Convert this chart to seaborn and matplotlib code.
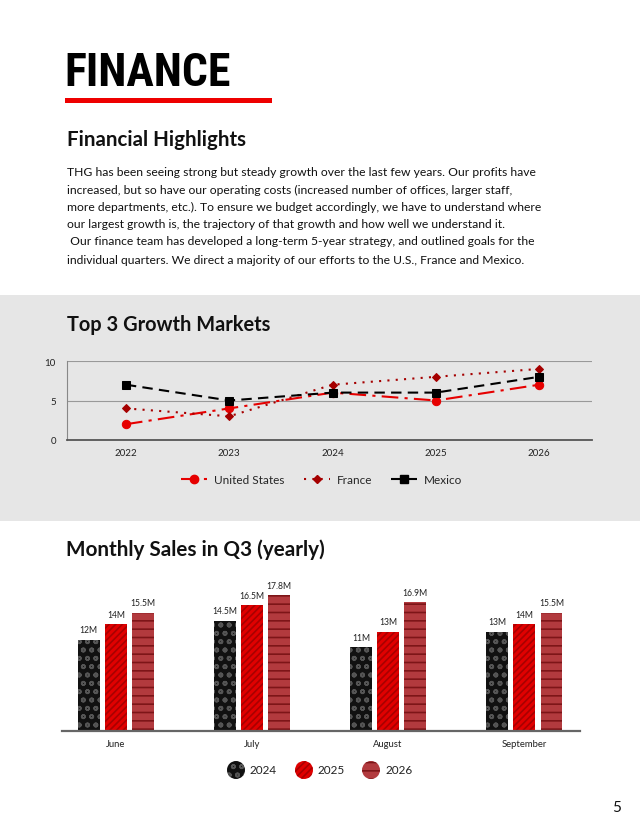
import matplotlib
matplotlib.use("Agg")
import matplotlib.pyplot as plt
import seaborn as sns
import pandas as pd
from matplotlib.patches import Rectangle, Circle
from matplotlib.lines import Line2D
from matplotlib import font_manager as fm
from matplotlib.font_manager import FontProperties

# ---------------- data ----------------
years = ["2022", "2023", "2024", "2025", "2026"]
us_values = [2, 4, 6, 5, 7]
france_values = [4, 3, 7, 8, 9]
mexico_values = [7, 5, 6, 6, 8]

months = ["June", "July", "August", "September"]
sales_2024 = [12, 14.5, 11, 13]
sales_2025 = [14, 16.5, 13, 14]
sales_2026 = [15.5, 17.8, 16.9, 15.5]
sales_years = ["2024", "2025", "2026"]

paragraph = [
    "THG has been seeing strong but steady growth over the last few years. Our profits have",
    "increased, but so have our operating costs (increased number of offices, larger staff,",
    "more departments, etc.). To ensure we budget accordingly, we have to understand where",
    "our largest growth is, the trajectory of that growth and how well we understand it.",
    " Our finance team has developed a long-term 5-year strategy, and outlined goals for the",
    "individual quarters. We direct a majority of our efforts to the U.S., France and Mexico.",
]

sns.set_theme(style="white")
names = {f.name for f in fm.fontManager.ttflist}
body_font = "Lato" if "Lato" in names else "DejaVu Sans"
plt.rcParams["font.family"] = [body_font, "DejaVu Sans"]
plt.rcParams["hatch.linewidth"] = 1.2

# condensed bold font for the big title
title_prop = None
for key in ["LiberationSansNarrow-Bold.", "RobotoCondensed-Bold.", "Roboto_Condensed-Bold",
            "DejaVuSansCondensed-Bold."]:
    for f in fm.fontManager.ttflist:
        if key in f.fname:
            title_prop = FontProperties(fname=f.fname, size=33)
            break
    if title_prop is not None:
        break
if title_prop is None:
    title_prop = FontProperties(family="DejaVu Sans", weight="bold", stretch="condensed", size=33)

W, H = 640, 828
fig = plt.figure(figsize=(6.4, 8.28), dpi=100)
fig.patch.set_facecolor("white")

def fx(px):
    return px / W

def fy(py):
    return 1 - py / H

# grey band
fig.patches.append(Rectangle((0, fy(522)), 1, (522 - 296) / H, transform=fig.transFigure,
                             facecolor="#e6e6e6", edgecolor="none", zorder=-10))

# header
fig.text(fx(64), fy(73), "FINANCE", fontproperties=title_prop,
         va="center", ha="left", color="black")
fig.patches.append(Rectangle((fx(65), fy(103.5)), fx(272 - 65), 5 / H, transform=fig.transFigure,
                             facecolor="#ee0000", edgecolor="none"))
fig.text(fx(67), fy(140), "Financial Highlights", fontsize=14.8, fontweight="bold",
         va="center", ha="left", color="#111111")
line_y = [172, 190, 207, 225, 242, 260]
for txt, yy in zip(paragraph, line_y):
    fig.text(fx(67), fy(yy), txt, fontsize=8.7, va="center", ha="left", color="#111111")

fig.text(fx(67), fy(325), "Top 3 Growth Markets", fontsize=14.4, fontweight="bold",
         va="center", ha="left", color="#111111")
fig.text(fx(66), fy(550), "Monthly Sales in Q3 (yearly)", fontsize=14.9, fontweight="bold",
         va="center", ha="left", color="#111111")
fig.text(fx(617), fy(808), "5", fontsize=11, va="center", ha="center", color="#111111")

# ---------------- line chart ----------------
ax1 = fig.add_axes([fx(67), fy(441), fx(592 - 67), (441 - 362) / H])
ax1.set_facecolor("none")
xpos = list(range(len(years)))
series = [
    ("United States", us_values, "#e60000", (0, (8, 3, 1.5, 3)), "o", 6),
    ("France", france_values, "#a50000", (0, (1, 3)), "D", 4.2),
    ("Mexico", mexico_values, "#000000", (0, (5, 3)), "s", 6),
]
handles = []
for name, vals, col, ls, mk, ms in series:
    sns.lineplot(x=xpos, y=vals, ax=ax1, color=col, linestyle=ls, marker=mk,
                 markersize=ms, linewidth=1.5, markeredgecolor=col, zorder=3)
    handles.append(Line2D([], [], color=col, linestyle=ls, marker=mk, markersize=ms,
                          linewidth=1.5, markeredgecolor=col))
ax1.set_xlim(-0.57, 4.51)
ax1.set_ylim(0, 10)
ax1.set_yticks([0, 5, 10])
ax1.set_xticks(xpos)
ax1.set_xticklabels(years)
ax1.tick_params(axis="both", length=0, labelsize=7, colors="#222222")
ax1.tick_params(axis="x", pad=6)
ax1.tick_params(axis="y", pad=8)
for yv in [5, 10]:
    ax1.axhline(yv, color="#999999", linewidth=0.8, zorder=1)
for s in ["top", "right"]:
    ax1.spines[s].set_visible(False)
ax1.spines["left"].set_color("#888888")
ax1.spines["left"].set_linewidth(0.8)
ax1.spines["bottom"].set_color("#555555")
ax1.spines["bottom"].set_linewidth(1.3)
ax1.set_xlabel("")
ax1.set_ylabel("")
fig.legend(handles, [s[0] for s in series], loc="center", bbox_to_anchor=(fx(322), fy(481)),
           ncol=3, frameon=False, fontsize=8.5, handlelength=2.2, columnspacing=1.6,
           handletextpad=0.6)

# ---------------- bar chart ----------------
ax2 = fig.add_axes([fx(62), fy(732), fx(580 - 62), (732 - 585) / H])
ax2.set_facecolor("none")
df = pd.DataFrame({
    "month": months * 3,
    "year": [y for y in sales_years for _ in months],
    "sales": sales_2024 + sales_2025 + sales_2026,
})
face = {"2024": "#111111", "2025": "#e00000", "2026": "#b23a3e"}
hatch_col = {"2024": "#555555", "2025": "#a80000", "2026": "#7d1518"}
hatches = {"2024": "oo", "2025": "/////", "2026": "--"}
sns.barplot(data=df, x="month", y="sales", hue="year", ax=ax2, width=0.6, gap=0.2,
            palette=face, legend=False, saturation=1)
for cont, yr in zip(ax2.containers, sales_years):
    for p in cont:
        p.set_hatch(hatches[yr])
        p.set_edgecolor(hatch_col[yr])
        p.set_linewidth(0)
    ax2.bar_label(cont, labels=[f"{v:g}M" for v in cont.datavalues], padding=4,
                  fontsize=6.2, color="#222222")
ax2.set_xlim(-0.397, 3.41)
ax2.set_ylim(0, 19.3)
ax2.set_yticks([])
ax2.set_xlabel("")
ax2.set_ylabel("")
for s in ["top", "right", "left"]:
    ax2.spines[s].set_visible(False)
ax2.spines["bottom"].set_color("#666666")
ax2.spines["bottom"].set_linewidth(1.6)
ax2.tick_params(axis="x", length=0, labelsize=6.8, colors="#222222", pad=6)

# legend circles (isotropic inches transform)
leg_items = [(236, 250), (304, 317), (371, 385)]
for (cx, tx), yr in zip(leg_items, sales_years):
    fig.patches.append(Circle((cx / 100, (H - 771) / 100), 0.09, transform=fig.dpi_scale_trans,
                              facecolor=face[yr], edgecolor=hatch_col[yr], linewidth=0,
                              hatch=hatches[yr]))
    fig.text(fx(tx), fy(771), yr, fontsize=8.5, va="center", ha="left", color="#222222")

fig.savefig("out.png", dpi=100)
